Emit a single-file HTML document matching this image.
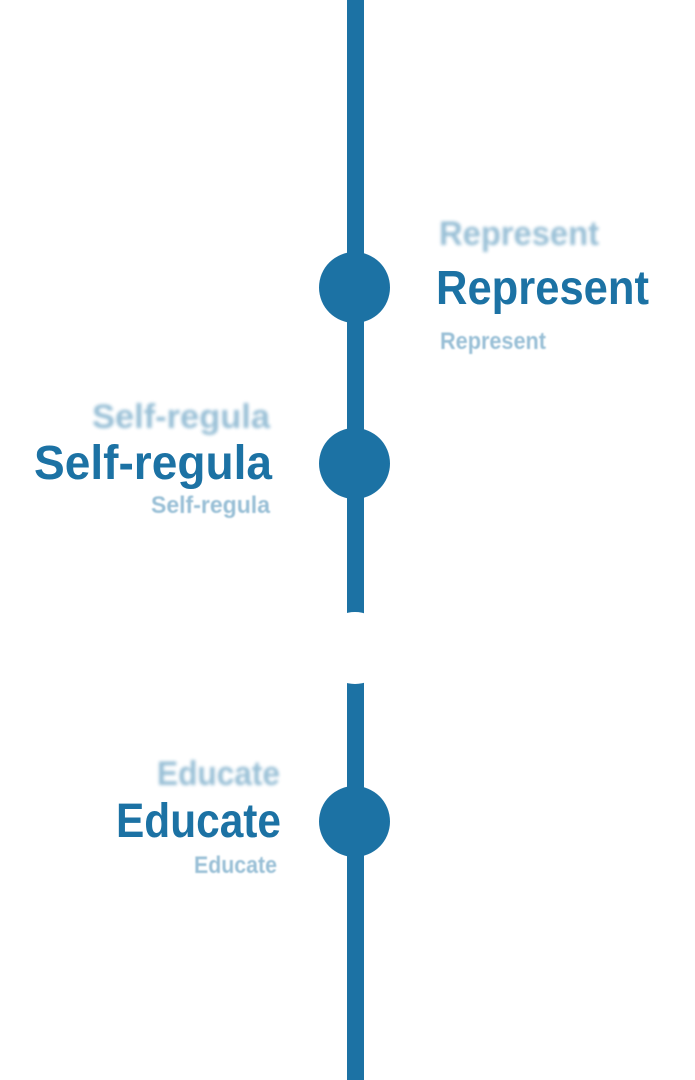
<!DOCTYPE html>
<html><head><meta charset="utf-8"><style>
html,body{margin:0;padding:0;background:#fff;}
svg{display:block;}
text{font-family:"Liberation Sans",sans-serif;font-weight:bold;fill:#1c72a4;}
.b1{fill:#1c72a4;opacity:.45;filter:url(#bl);}
.b2{fill:#1c72a4;opacity:.45;filter:url(#bl2);}
</style></head><body>
<svg width="695" height="1080" viewBox="0 0 695 1080" xmlns="http://www.w3.org/2000/svg">
<defs>
<filter id="bl" x="-10%" y="-30%" width="120%" height="160%"><feGaussianBlur stdDeviation="1.6"/></filter>
<filter id="bl2" x="-10%" y="-30%" width="120%" height="160%"><feGaussianBlur stdDeviation="0.9"/></filter>
</defs>
<rect x="347" y="0" width="17" height="1080" fill="#1c72a4"/>
<circle cx="354.5" cy="287.5" r="35.5" fill="#1c72a4"/>
<circle cx="354.5" cy="463.5" r="35.5" fill="#1c72a4"/>
<circle cx="354.5" cy="821.5" r="35.5" fill="#1c72a4"/>
<circle cx="355" cy="648" r="36" fill="#fff"/>

<text class="b1" x="439" y="245" font-size="34" textLength="160" lengthAdjust="spacingAndGlyphs">Represent</text>
<text x="436" y="304" font-size="48" textLength="213" lengthAdjust="spacingAndGlyphs">Represent</text>
<text class="b2" x="440" y="349" font-size="24" textLength="106" lengthAdjust="spacingAndGlyphs">Represent</text>

<text class="b1" x="92" y="428" font-size="34" textLength="178" lengthAdjust="spacingAndGlyphs">Self-regula</text>
<text x="34" y="479" font-size="48" textLength="238" lengthAdjust="spacingAndGlyphs">Self-regula</text>
<text class="b2" x="151" y="513" font-size="24" textLength="119" lengthAdjust="spacingAndGlyphs">Self-regula</text>

<text class="b1" x="157" y="785" font-size="34" textLength="123" lengthAdjust="spacingAndGlyphs">Educate</text>
<text x="116" y="837" font-size="48" textLength="165" lengthAdjust="spacingAndGlyphs">Educate</text>
<text class="b2" x="194" y="873" font-size="24" textLength="83" lengthAdjust="spacingAndGlyphs">Educate</text>
</svg>
</body></html>
